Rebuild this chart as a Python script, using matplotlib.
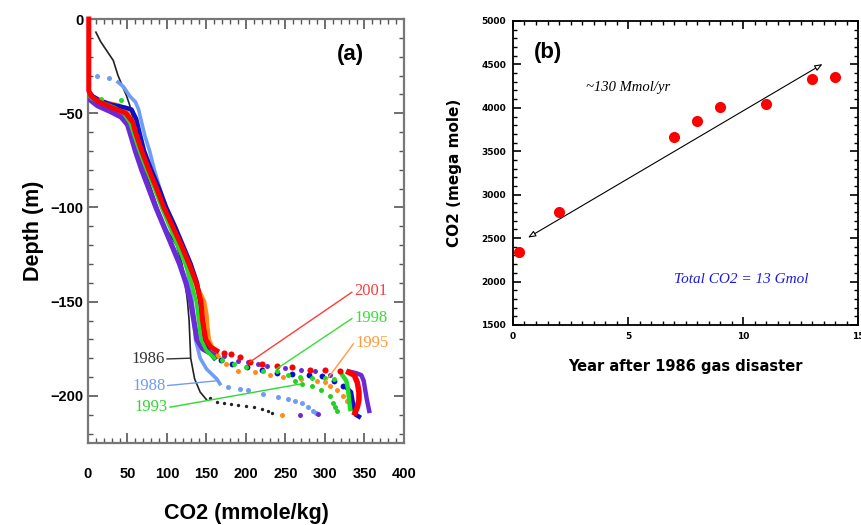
import matplotlib
matplotlib.use("Agg")
import matplotlib.pyplot as plt
from matplotlib.ticker import MultipleLocator

# ---- panel (a): CO2 profiles ----
black_x = [10, 16, 24, 32, 38, 44, 49, 53, 56, 60, 64, 72, 80, 88, 97, 112, 119, 123, 126, 128, 129, 130, 135, 142, 150]
black_y = [-7, -12, -17, -22, -30, -36, -41, -46, -52, -60, -70, -80, -90, -100, -110, -120, -130, -140, -150, -160, -170, -180, -191, -198, -202]
black_dx = [155, 163, 172, 181, 190, 200, 210, 220, 228, 233]
black_dy = [-201, -203, -204, -204.5, -205, -205.5, -206, -207, -208, -209]

lblue_x = [38, 45, 53, 60, 64, 68, 72, 78, 84, 91, 99, 108, 116, 124, 129, 132, 134, 136, 142, 150, 158, 163, 167]
lblue_y = [-33.5, -36, -41, -44, -48, -55, -62, -70, -80, -90, -100, -110, -120, -130, -140, -150, -160, -170, -180, -185.7, -189, -191, -193.6]
lblue_dx = [11, 27, 177, 192, 203, 222, 241, 253, 262, 271, 279, 285, 289]
lblue_dy = [-30.3, -31.5, -195.2, -196.3, -197, -199, -200.5, -201.6, -202.5, -203.7, -205.8, -207.8, -209]

orange_x = [0, 6, 18, 30, 40, 50, 56, 60, 68, 77, 87, 97, 107, 117, 127, 136, 147, 150, 151, 153, 158, 165]
orange_y = [-40, -43, -44, -45, -46, -49, -55, -60, -70, -80, -90, -100, -110, -120, -130, -140, -150, -157, -163, -170, -175, -179]
orange_dx = [175, 190, 211, 230, 247, 270, 290, 300, 306, 315, 323, 328, 245]
orange_dy = [-183, -186.6, -187.4, -189, -190, -191, -192, -192.6, -195, -197, -200, -202.5, -210]

green_x = [0, 4, 12, 22, 34, 45, 53, 57, 65, 74, 84, 93, 103, 113, 123, 131, 137, 140, 143, 150, 160]
green_y = [-40, -42, -43.5, -45, -47, -50, -55, -60, -70, -80, -90, -100, -110, -120, -130, -140, -150, -160, -170, -176, -180]
green_dx = [17, 42, 170, 185, 200, 222, 239, 253, 268, 283, 300, 312]
green_dy = [-42.6, -43, -181, -183, -184.5, -186.6, -187, -189, -190, -190.5, -190.5, -191]
green_ex = [322, 327, 329, 330, 331, 332]
green_ey = [-189, -192, -196, -200, -204, -207]
g93_dx = [262, 271, 283, 295, 306, 310, 313, 315]
g93_dy = [-192, -193.6, -195, -197, -200, -204, -206, -208]

blue_x = [0, 6, 14, 28, 47, 55, 61, 65, 71, 80, 90, 99, 110, 120, 130, 138, 142, 145, 148, 152, 160]
blue_y = [-38, -41, -43, -45.3, -47, -48, -53, -60, -70, -80, -90, -100, -110, -120, -130, -140, -150, -160, -170, -176, -180]
blue_dx = [168, 182, 201, 220, 239, 258, 280, 296, 311, 323]
blue_dy = [-181, -183, -184.7, -186, -188, -188.5, -189, -189.5, -192, -194.5]
blue_ex = [328, 333, 335, 337, 339, 343]
blue_ey = [-196, -198, -203, -207, -210, -211]

purple_x = [0, 3, 12, 28, 42, 50, 53, 60, 68, 77, 86, 96, 106, 116, 124, 130, 134, 138, 145, 158]
purple_y = [-40, -43, -46, -49, -52, -56, -60, -70, -80, -90, -100, -110, -120, -130, -140, -150, -160, -170, -175, -178]
purple_dx = [172, 190, 203, 215, 226, 250, 270, 287, 306, 268, 291]
purple_dy = [-179, -181.3, -182, -183, -184, -185, -186, -186.6, -189, -210, -209.5]
purple_ex = [330, 340, 346, 349, 351, 353, 355, 356]
purple_ey = [-187, -188, -189, -192, -197, -202, -206, -208]

red_x = [1, 1, 4, 14, 30, 48, 57, 60, 68, 77, 87, 96, 107, 118, 128, 137, 143, 145, 149, 155, 163]
red_y = [0, -38, -41, -44, -47, -50, -55, -60, -70, -80, -90, -100, -110, -120, -130, -140, -150, -160, -170, -174, -176]
red_dx = [172, 181, 192, 205, 220, 239, 258, 281, 300, 319]
red_dy = [-177, -178, -179.5, -182, -183, -184, -184.7, -186, -186.5, -187]
red_ex = [330, 337, 341, 343, 343, 341, 338]
red_ey = [-187.5, -189, -193, -198, -202, -206, -209]

# year labels: text position and the point the leader line goes to
years = ['2001', '1998', '1995', '1986', '1988', '1993']
year_colors = ['#ff3b3b', '#33e033', '#ff9a3c', '#333333', '#6f9cf5', '#2ed82e']
label_x = [334, 334, 336, 100, 101, 104]
label_y = [-145, -159, -172.4, -180.4, -194.5, -206]
target_x = [205, 239, 300, 129, 163, 270]
target_y = [-182, -185.6, -192.7, -180, -192, -193.6]

# ---- panel (b): CO2 inventory ----
yrs_after = [0.25, 2, 7, 8, 9, 11, 13, 14]
co2_mmol = [2340, 2800, 3665, 3850, 4010, 4050, 4335, 4355]
trend_x = [0.55, 13.55]
trend_y = [2490, 4520]

fig = plt.figure(figsize=(8.61, 5.25), dpi=100)
axa = fig.add_axes([0.1022, 0.1562, 0.367, 0.8076])
axb = fig.add_axes([0.5958, 0.381, 0.401, 0.579])

lw = 3.2
ms = 3.6
axa.plot(black_x, black_y, color='#222222', lw=1.2, zorder=2)
axa.plot(black_dx, black_dy, 'o', color='#222222', ms=2.4, mew=0, zorder=2)
axa.plot(lblue_x, lblue_y, color='#6f9cf5', lw=2.6, zorder=2)
axa.plot(lblue_dx, lblue_dy, 'o', color='#6f9cf5', ms=ms, mew=0, zorder=2)
axa.plot(orange_x, orange_y, color='#ff8c1a', lw=lw, zorder=3)
axa.plot(orange_dx, orange_dy, 'o', color='#ff8c1a', ms=ms, mew=0, zorder=3)
axa.plot(g93_dx, g93_dy, 'o', color='#22d022', ms=ms, mew=0, zorder=3)
axa.plot(blue_x, blue_y, color='#0a10c8', lw=lw, zorder=3)
axa.plot(blue_dx, blue_dy, 'o', color='#0a10c8', ms=ms + 0.6, mew=0, zorder=3)
axa.plot(blue_ex, blue_ey, color='#0a10c8', lw=lw, zorder=3)
axa.plot(purple_x, purple_y, color='#6a2bd6', lw=lw + 0.6, zorder=4)
axa.plot(purple_dx, purple_dy, 'o', color='#6a2bd6', ms=ms, mew=0, zorder=4)
axa.plot(purple_ex, purple_ey, color='#6a2bd6', lw=lw, zorder=4)
axa.plot(green_x, green_y, color='#22dd22', lw=lw - 0.6, zorder=5)
axa.plot(green_dx, green_dy, 'o', color='#22dd22', ms=ms, mew=0, zorder=5)
axa.plot(green_ex, green_ey, color='#22dd22', lw=lw, zorder=5)
axa.plot(red_x, red_y, color='#ff0000', lw=lw + 0.4, zorder=6, clip_on=False)
axa.plot(red_dx, red_dy, 'o', color='#ff0000', ms=ms + 0.8, mew=0, zorder=6)
axa.plot(red_ex, red_ey, color='#ff0000', lw=lw + 0.8, zorder=6)

for yr, c, lx, ly, tx, ty in zip(years, year_colors, label_x, label_y, target_x, target_y):
    axa.plot([lx, tx], [ly, ty], color=c, lw=1.0, zorder=7)
    if lx > 200:
        axa.text(lx + 3, ly + 0.5, yr, color=c, fontsize=12, family='Liberation Serif',
                 ha='left', va='center')
    else:
        axa.text(lx - 3, ly, yr, color=c, fontsize=12, family='Liberation Serif',
                 ha='right', va='center')

axa.text(332, -19, '(a)', fontsize=16, fontweight='bold', family='Liberation Sans',
         ha='center', va='center')

axa.set_xlim(0, 400)
axa.set_ylim(-225, 0)
axa.xaxis.set_major_locator(MultipleLocator(50))
axa.xaxis.set_minor_locator(MultipleLocator(10))
axa.yaxis.set_major_locator(MultipleLocator(50))
axa.yaxis.set_minor_locator(MultipleLocator(10))
axa.set_yticks([0, -50, -100, -150, -200])
axa.tick_params(which='both', direction='in', top=True, right=True, color='#555555')
axa.tick_params(which='major', length=7, width=1.2)
axa.tick_params(which='minor', length=3.5, width=1.0)
axa.tick_params(axis='x', which='major', pad=17)
for lab in axa.get_xticklabels() + axa.get_yticklabels():
    lab.set_family('Liberation Sans')
    lab.set_fontweight('bold')
    lab.set_fontsize(10.5)
for sp in axa.spines.values():
    sp.set_color('#777777')
    sp.set_linewidth(1.6)
axa.set_xlabel('CO2 (mmole/kg)', fontsize=15.5, fontweight='bold', family='Liberation Sans',
               labelpad=16)
axa.set_ylabel('Depth (m)', fontsize=15.5, fontweight='bold', family='Liberation Sans',
               labelpad=4)

# panel (b)
axb.plot(yrs_after, co2_mmol, 'o', color='#ff0000', ms=8, mew=0, clip_on=False, zorder=4)
axb.annotate('', xy=(trend_x[1], trend_y[1]), xytext=(trend_x[0], trend_y[0]),
             arrowprops=dict(arrowstyle='<|-|>,head_length=0.45,head_width=0.18',
                             lw=0.8, color='black', fc='white'))
axb.text(5.0, 4240, '~130 Mmol/yr', fontsize=10.5, style='italic', family='Liberation Serif',
         ha='center', va='center')
axb.text(9.9, 2020, 'Total CO2 = 13 Gmol', fontsize=11, style='italic', color='#1a1ae6',
         family='Liberation Serif', ha='center', va='center')
axb.text(1.5, 4640, '(b)', fontsize=16, fontweight='bold', family='Liberation Sans',
         ha='center', va='center')
axb.set_xlim(0, 15)
axb.set_ylim(1500, 5000)
axb.xaxis.set_major_locator(MultipleLocator(5))
axb.xaxis.set_minor_locator(MultipleLocator(0.5))
axb.yaxis.set_major_locator(MultipleLocator(500))
axb.yaxis.set_minor_locator(MultipleLocator(100))
axb.tick_params(which='both', direction='in', top=True, right=True, color='black')
axb.tick_params(which='major', length=6, width=1.2, pad=5)
axb.tick_params(which='minor', length=3, width=1.0)
for lab in axb.get_xticklabels() + axb.get_yticklabels():
    lab.set_family('DejaVu Sans')
    lab.set_fontweight('bold')
    lab.set_fontsize(6.5)
for sp in axb.spines.values():
    sp.set_linewidth(1.3)
axb.set_xlabel('Year after 1986 gas disaster', fontsize=10.5, fontweight='bold',
               family='DejaVu Sans', labelpad=13)
axb.set_ylabel('CO2 (mega mole)', fontsize=11, fontweight='bold', family='DejaVu Sans',
               labelpad=14)

fig.savefig('out.png', dpi=100)
